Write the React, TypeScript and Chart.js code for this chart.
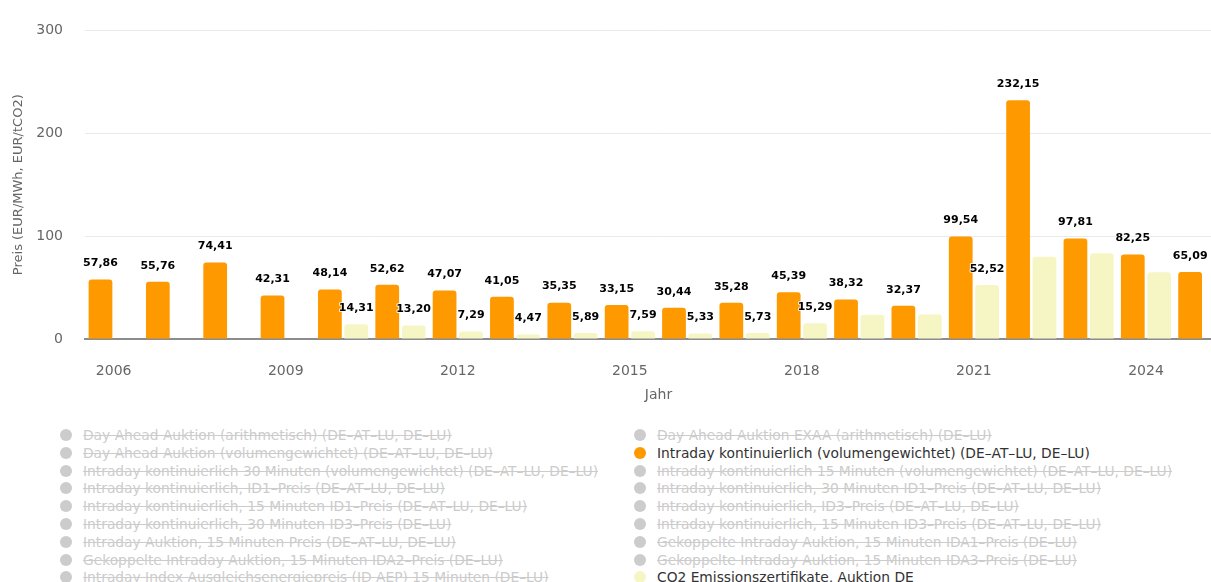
import React, { useEffect, useRef } from 'react';
import { Chart, registerables } from 'chart.js';

Chart.register(...registerables);

const years = ['2006', '2007', '2008', '2009', '2010', '2011', '2012', '2013', '2014', '2015', '2016', '2017', '2018', '2019', '2020', '2021', '2022', '2023', '2024', '2025'];
const intradayValues = [57.86, 55.76, 74.41, 42.31, 48.14, 52.62, 47.07, 41.05, 35.35, 33.15, 30.44, 35.28, 45.39, 38.32, 32.37, 99.54, 232.15, 97.81, 82.25, 65.09];
const co2Values = [null, null, null, null, 14.31, 13.2, 7.29, 4.47, 5.89, 7.59, 5.33, 5.73, 15.29, 23.5, 23.8, 52.52, 80.0, 83.3, 65.0, null];
const co2LabelShown = [false, false, false, false, true, true, true, true, true, true, true, true, true, false, false, true, false, false, false, false];
const xTickLabels = ['2006', '2009', '2012', '2015', '2018', '2021', '2024'];
const yTickValues = [0, 100, 200, 300];

const legendLeft = [
  'Day Ahead Auktion (arithmetisch) (DE–AT–LU, DE–LU)',
  'Day Ahead Auktion (volumengewichtet) (DE–AT–LU, DE–LU)',
  'Intraday kontinuierlich 30 Minuten (volumengewichtet) (DE–AT–LU, DE–LU)',
  'Intraday kontinuierlich, ID1–Preis (DE–AT–LU, DE–LU)',
  'Intraday kontinuierlich, 15 Minuten ID1–Preis (DE–AT–LU, DE–LU)',
  'Intraday kontinuierlich, 30 Minuten ID3–Preis (DE–LU)',
  'Intraday Auktion, 15 Minuten Preis (DE–AT–LU, DE–LU)',
  'Gekoppelte Intraday Auktion, 15 Minuten IDA2–Preis (DE–LU)',
  'Intraday Index Ausgleichsenergiepreis (ID AEP) 15 Minuten (DE–LU)',
];
const legendRight = [
  'Day Ahead Auktion EXAA (arithmetisch) (DE–LU)',
  'Intraday kontinuierlich (volumengewichtet) (DE–AT–LU, DE–LU)',
  'Intraday kontinuierlich 15 Minuten (volumengewichtet) (DE–AT–LU, DE–LU)',
  'Intraday kontinuierlich, 30 Minuten ID1–Preis (DE–AT–LU, DE–LU)',
  'Intraday kontinuierlich, ID3–Preis (DE–AT–LU, DE–LU)',
  'Intraday kontinuierlich, 15 Minuten ID3–Preis (DE–AT–LU, DE–LU)',
  'Gekoppelte Intraday Auktion, 15 Minuten IDA1–Preis (DE–LU)',
  'Gekoppelte Intraday Auktion, 15 Minuten IDA3–Preis (DE–LU)',
  'CO2 Emissionszertifikate, Auktion DE',
];
const activeSeries: Record<string, string> = {
  'Intraday kontinuierlich (volumengewichtet) (DE–AT–LU, DE–LU)': '#ff9900',
  'CO2 Emissionszertifikate, Auktion DE': '#f6f6c4',
};

const FONT = '"DejaVu Sans", Verdana, sans-serif';
const ORANGE = '#ff9900';
const PALE = '#f6f6c4';

function fmt(v: number) {
  return v.toFixed(2).replace('.', ',');
}

function LegendItem({ label, left, top }: { label: string; left: number; top: number }) {
  const color = activeSeries[label];
  const active = !!color;
  return (
    <div
      style={{
        position: 'absolute',
        left,
        top,
        height: 18,
        display: 'flex',
        alignItems: 'center',
        whiteSpace: 'nowrap',
        fontFamily: FONT,
        fontSize: 13.8,
        color: active ? '#333333' : '#cccccc',
        textDecoration: active ? 'none' : 'line-through',
      }}
    >
      <span
        style={{
          display: 'inline-block',
          width: 12,
          height: 12,
          borderRadius: 6,
          background: active ? color : '#cccccc',
          marginRight: 11,
          flex: '0 0 auto',
        }}
      />
      <span>{label}</span>
    </div>
  );
}

export default function App() {
  const canvasRef = useRef<HTMLCanvasElement | null>(null);

  useEffect(() => {
    if (!canvasRef.current) return;
    const labelPlugin = {
      id: 'barValueLabels',
      afterDatasetsDraw(chart: any) {
        const ctx = chart.ctx;
        ctx.save();
        ctx.font = `bold 11px ${FONT}`;
        ctx.textAlign = 'center';
        ctx.textBaseline = 'middle';
        ctx.lineJoin = 'round';
        chart.data.datasets.forEach((ds: any, di: number) => {
          const meta = chart.getDatasetMeta(di);
          if (meta.hidden) return;
          meta.data.forEach((el: any, i: number) => {
            const v = ds.data[i];
            if (v == null) return;
            if (di === 1 && !co2LabelShown[i]) return;
            const text = fmt(v);
            const y = el.y - 16;
            ctx.lineWidth = 2;
            ctx.strokeStyle = 'rgba(255,255,255,0.85)';
            ctx.strokeText(text, el.x, y);
            ctx.fillStyle = '#000000';
            ctx.fillText(text, el.x, y);
          });
        });
        ctx.restore();
      },
    };

    const chart = new Chart(canvasRef.current, {
      type: 'bar',
      data: {
        labels: years,
        datasets: [
          {
            label: legendRight[1],
            data: intradayValues,
            backgroundColor: ORANGE,
            borderRadius: 3,
            categoryPercentage: 0.92,
            barPercentage: 0.9,
          },
          {
            label: legendRight[8],
            data: co2Values,
            backgroundColor: PALE,
            borderRadius: 3,
            categoryPercentage: 0.92,
            barPercentage: 0.9,
          },
        ],
      },
      options: {
        animation: false,
        responsive: false,
        layout: { padding: { top: 19, left: 0, right: 0, bottom: 0 } },
        plugins: {
          legend: { display: false },
          tooltip: { enabled: false },
        },
        scales: {
          x: {
            grid: { display: false },
            border: { display: true, color: '#8c8c8c', width: 2 },
            ticks: {
              autoSkip: false,
              maxRotation: 0,
              padding: 16,
              color: '#666666',
              font: { family: FONT, size: 14 },
              callback: (_v: any, index: number) => (xTickLabels.includes(years[index]) ? years[index] : ''),
            },
            title: {
              display: true,
              text: 'Jahr',
              color: '#666666',
              font: { family: FONT, size: 14 },
              padding: { top: 4, bottom: 6 },
            },
            afterFit: (s: any) => {
              s.height = 71;
            },
          },
          y: {
            min: 0,
            max: 300,
            afterBuildTicks: (s: any) => {
              s.ticks = yTickValues.map((v) => ({ value: v }));
            },
            ticks: {
              padding: 22,
              color: '#666666',
              font: { family: FONT, size: 14 },
            },
            grid: { color: '#e9e9e9', drawTicks: false },
            border: { display: false },
            title: {
              display: true,
              text: 'Preis (EUR/MWh, EUR/tCO2)',
              color: '#666666',
              font: { family: FONT, size: 13 },
              padding: { top: 11, bottom: 0 },
            },
            afterFit: (s: any) => {
              s.width = 85;
            },
          },
        },
      },
      plugins: [labelPlugin],
    } as any);

    return () => chart.destroy();
  }, []);

  const rowTop = (i: number) => 426 + i * 17.8;

  return (
    <div
      style={{
        position: 'absolute',
        left: 0,
        top: 0,
        width: 1211,
        height: 582,
        overflow: 'hidden',
        background: '#ffffff',
      }}
    >
      <canvas ref={canvasRef} width={1232} height={410} style={{ position: 'absolute', left: 0, top: 0 }} />
      {legendLeft.map((l, i) => (
        <LegendItem key={'l' + i} label={l} left={60} top={rowTop(i)} />
      ))}
      {legendRight.map((l, i) => (
        <LegendItem key={'r' + i} label={l} left={634} top={rowTop(i)} />
      ))}
    </div>
  );
}
